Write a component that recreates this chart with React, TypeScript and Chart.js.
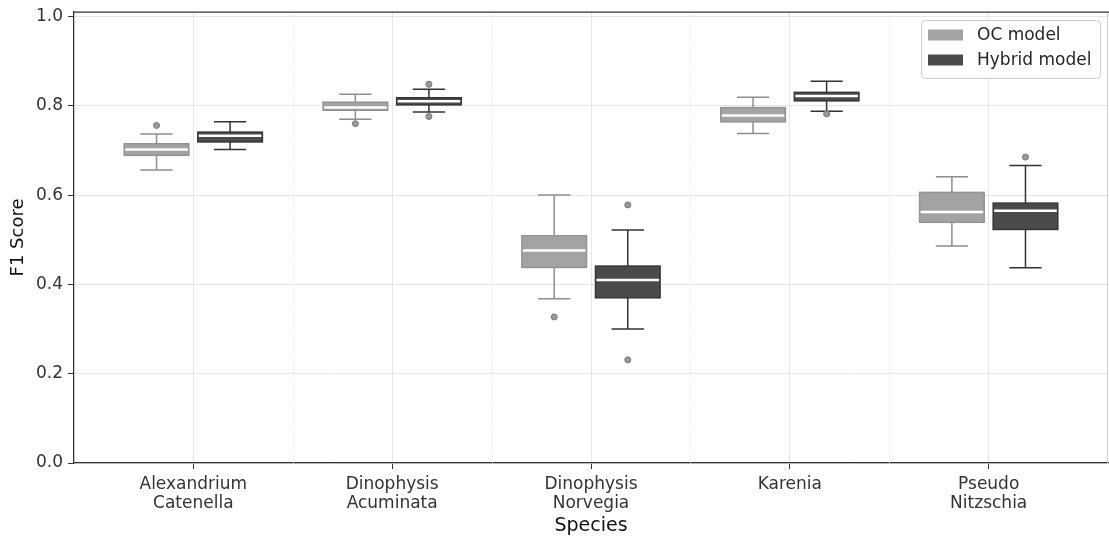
import React, { useEffect, useRef } from 'react';
import { Chart, registerables } from 'chart.js';
Chart.register(...registerables);

const categories: string[][] = [
  ['Alexandrium', 'Catenella'],
  ['Dinophysis', 'Acuminata'],
  ['Dinophysis', 'Norvegia'],
  ['Karenia'],
  ['Pseudo', 'Nitzschia'],
];
const seriesNames = ['OC model', 'Hybrid model'];
// [lower whisker, Q1, median, Q3, upper whisker]
const ocStats: number[][] = [
  [0.656, 0.689, 0.702, 0.715, 0.737],
  [0.770, 0.790, 0.796, 0.808, 0.826],
  [0.368, 0.438, 0.476, 0.509, 0.600],
  [0.738, 0.764, 0.778, 0.796, 0.819],
  [0.486, 0.539, 0.562, 0.606, 0.641],
];
const hybridStats: number[][] = [
  [0.702, 0.719, 0.733, 0.741, 0.764],
  [0.786, 0.802, 0.810, 0.818, 0.837],
  [0.300, 0.370, 0.410, 0.441, 0.522],
  [0.788, 0.811, 0.822, 0.830, 0.855],
  [0.437, 0.523, 0.565, 0.582, 0.666],
];
const ocOutliers: number[][] = [[0.756], [0.760], [0.327], [], []];
const hybridOutliers: number[][] = [[], [0.848, 0.776], [0.578, 0.231], [0.782], [0.685]];
const yTicks = [0, 0.2, 0.4, 0.6, 0.8, 1.0];

const FONT = "'DejaVu Sans', sans-serif";
const offsets = [-0.185, 0.185];
const halfW = 0.1625;
const fills = ['#a3a3a3', '#4b4b4b'];
const edges = ['#939393', '#373737'];
const whiskerColors = ['#8e8e8e', '#333333'];

const boxPlugin = {
  id: 'boxes',
  beforeDatasetsDraw(chart: any) {
    const { ctx, chartArea, scales } = chart;
    const x = scales.x;
    const y = scales.y;
    ctx.save();
    ctx.beginPath();
    ctx.rect(chartArea.left, chartArea.top, chartArea.right - chartArea.left, chartArea.bottom - chartArea.top);
    ctx.clip();
    // minor dotted grid lines
    ctx.setLineDash([1, 2]);
    ctx.strokeStyle = '#dcdcdc';
    ctx.lineWidth = 0.8;
    for (let i = 0; i < categories.length - 1; i++) {
      const px = Math.round(x.getPixelForValue(i + 0.5)) + 0.5;
      ctx.beginPath();
      ctx.moveTo(px, chartArea.top);
      ctx.lineTo(px, chartArea.bottom);
      ctx.stroke();
    }
    ctx.setLineDash([]);
    [ocStats, hybridStats].forEach((stats, s) => {
      stats.forEach((st, i) => {
        const c = i + offsets[s];
        const xl = x.getPixelForValue(c - halfW);
        const xr = x.getPixelForValue(c + halfW);
        const xc = x.getPixelForValue(c);
        const cl = x.getPixelForValue(c - halfW / 2);
        const cr = x.getPixelForValue(c + halfW / 2);
        const [lw, q1, med, q3, uw] = st.map((v) => y.getPixelForValue(v));
        ctx.lineWidth = 1.5;
        ctx.strokeStyle = whiskerColors[s];
        ctx.beginPath();
        ctx.moveTo(xc, q3); ctx.lineTo(xc, uw);
        ctx.moveTo(xc, q1); ctx.lineTo(xc, lw);
        ctx.moveTo(cl, uw); ctx.lineTo(cr, uw);
        ctx.moveTo(cl, lw); ctx.lineTo(cr, lw);
        ctx.stroke();
        ctx.fillStyle = fills[s];
        ctx.fillRect(xl, q3, xr - xl, q1 - q3);
        ctx.strokeStyle = edges[s];
        ctx.strokeRect(xl, q3, xr - xl, q1 - q3);
        ctx.strokeStyle = '#ffffff';
        ctx.lineWidth = 2.5;
        ctx.beginPath();
        ctx.moveTo(xl + 1, med); ctx.lineTo(xr - 1, med);
        ctx.stroke();
      });
    });
    ctx.restore();
  },
  afterDraw(chart: any) {
    const { ctx, chartArea } = chart;
    ctx.save();
    // right spine (light) and top spine (dark)
    ctx.strokeStyle = '#cfcfcf';
    ctx.lineWidth = 1;
    ctx.beginPath();
    ctx.moveTo(chartArea.right - 0.5, chartArea.top);
    ctx.lineTo(chartArea.right - 0.5, chartArea.bottom);
    ctx.stroke();
    ctx.strokeStyle = '#333333';
    ctx.lineWidth = 1.25;
    ctx.beginPath();
    ctx.moveTo(chartArea.left, chartArea.top);
    ctx.lineTo(chartArea.right + 1, chartArea.top);
    ctx.stroke();
    // legend
    const lx = 921, ly = 20, lw = 179, lh = 58;
    ctx.fillStyle = 'rgba(255,255,255,0.85)';
    ctx.strokeStyle = '#cccccc';
    ctx.lineWidth = 1;
    ctx.beginPath();
    (ctx as any).roundRect(lx + 0.5, ly + 0.5, lw, lh, 4);
    ctx.fill();
    ctx.stroke();
    ctx.font = `17px ${FONT}`;
    ctx.textBaseline = 'middle';
    seriesNames.forEach((name, k) => {
      const cy = ly + 15 + k * 25;
      ctx.fillStyle = fills[k];
      ctx.fillRect(928, cy - 5.5, 35, 11);
      ctx.fillStyle = '#262626';
      ctx.fillText(name, 977, cy + 1);
    });
    ctx.restore();
  },
};

export default function App() {
  const ref = useRef<HTMLCanvasElement>(null);
  useEffect(() => {
    if (!ref.current) return;
    const mkPts = (outs: number[][], s: number) =>
      outs.flatMap((arr, i) => arr.map((v) => ({ x: i + offsets[s], y: v })));
    const chart = new Chart(ref.current, {
      type: 'scatter',
      data: {
        datasets: [ocOutliers, hybridOutliers].map((outs, s) => ({
          label: seriesNames[s],
          data: mkPts(outs, s),
          pointRadius: 3,
          pointBackgroundColor: '#9a9a9a',
          pointBorderColor: '#777777',
          pointBorderWidth: 1,
        })),
      },
      options: {
        animation: false,
        responsive: false,
        devicePixelRatio: 1,
        layout: { autoPadding: false, padding: { top: 12, right: 1, left: 0, bottom: 0 } },
        plugins: { legend: { display: false }, tooltip: { enabled: false } },
        scales: {
          x: {
            type: 'linear',
            min: -0.6,
            max: 4.6,
            afterBuildTicks: (axis: any) => {
              axis.ticks = categories.map((_, i) => ({ value: i }));
            },
            afterFit: (axis: any) => {
              axis.height = 73;
              axis.paddingLeft = 0;
              axis.paddingRight = 0;
            },
            ticks: {
              autoSkip: false,
              maxRotation: 0,
              padding: 6,
              color: '#333333',
              font: { family: FONT, size: 17, lineHeight: 1.12 },
              callback: (v: any) => categories[Math.round(v)] ?? '',
            },
            grid: { color: '#e6e6e6', lineWidth: 1, tickColor: '#333333', tickLength: 6, drawTicks: true },
            border: { color: '#333333', width: 1.25 },
            title: {
              display: true,
              text: 'Species',
              color: '#111111',
              font: { family: FONT, size: 19, lineHeight: 1.0 },
              padding: { top: 0, bottom: 0 },
            },
          },
          y: {
            type: 'linear',
            min: 0,
            max: 1.01,
            afterBuildTicks: (axis: any) => {
              axis.ticks = yTicks.map((v) => ({ value: v }));
            },
            afterFit: (axis: any) => {
              axis.width = 74;
              axis.paddingTop = 0;
              axis.paddingBottom = 0;
            },
            ticks: {
              padding: 5,
              color: '#333333',
              font: { family: FONT, size: 17 },
              callback: (v: any) => Number(v).toFixed(1),
            },
            grid: { color: '#e6e6e6', lineWidth: 1, tickColor: '#333333', tickLength: 6, drawTicks: true },
            border: { color: '#333333', width: 1.25 },
            title: {
              display: true,
              text: 'F1 Score',
              color: '#111111',
              font: { family: FONT, size: 18 },
              padding: { top: 8, bottom: 0 },
            },
          },
        },
      },
      plugins: [boxPlugin],
    });
    return () => chart.destroy();
  }, []);
  return (
    <div style={{ position: 'fixed', left: 0, top: 0, width: 1109, height: 536, background: '#fff' }}>
      <canvas ref={ref} width={1109} height={536} style={{ width: 1109, height: 536, display: 'block' }} />
    </div>
  );
}
